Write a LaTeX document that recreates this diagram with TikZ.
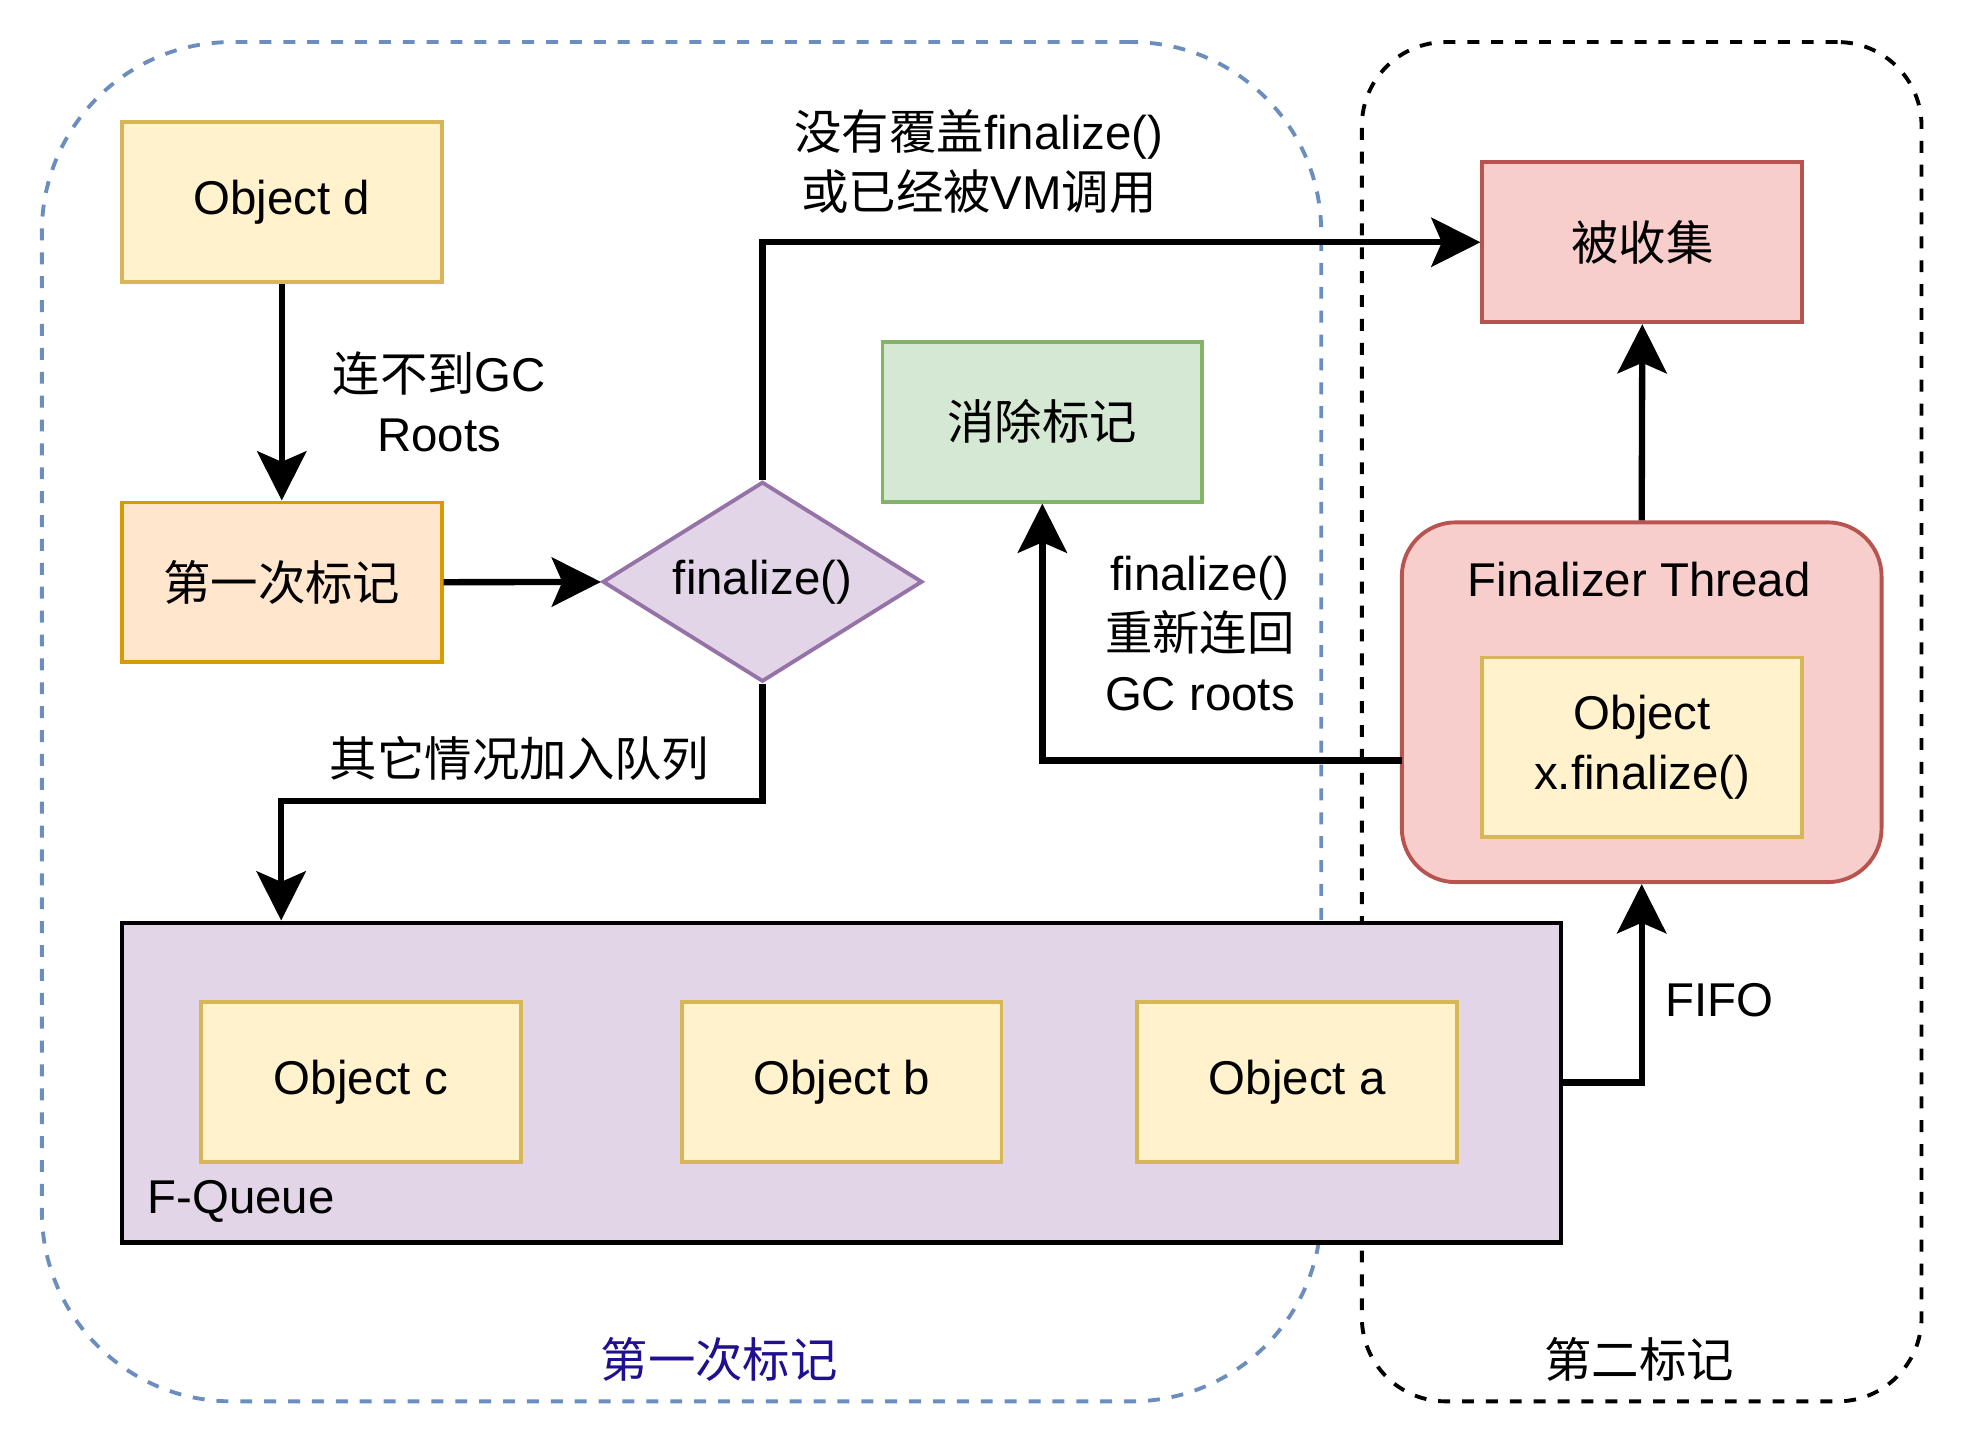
\documentclass[tikz,border=0pt]{standalone}
\usepackage{fontspec}
\setmainfont{Liberation Sans}
\newfontfamily\cjk{Noto Sans CJK SC}
\usetikzlibrary{arrows.meta,shapes.geometric}
\definecolor{yfill}{HTML}{FFF2CC}\definecolor{ydraw}{HTML}{D6B656}
\definecolor{ofill}{HTML}{FFE6CC}\definecolor{odraw}{HTML}{D79B00}
\definecolor{pfill}{HTML}{E1D5E7}\definecolor{pdraw}{HTML}{9673A6}
\definecolor{rfill}{HTML}{F8CECC}\definecolor{rdraw}{HTML}{B85450}
\definecolor{gfill}{HTML}{D5E8D4}\definecolor{gdraw}{HTML}{82B366}
\definecolor{bdash}{HTML}{6C8EBF}
\definecolor{blabel}{HTML}{1F108F}
\tikzset{
  box/.style={rectangle, inner sep=0pt, minimum width=3.2cm, minimum height=1.6cm, line width=1.1pt, align=center},
  ybox/.style={box, fill=yfill, draw=ydraw},
  obox/.style={box, fill=ofill, draw=odraw},
  rbox/.style={box, fill=rfill, draw=rdraw},
  gbox/.style={box, fill=gfill, draw=gdraw},
  arr/.style={draw=black, line width=1.8pt, -{Stealth[length=14pt,width=14pt,inset=3pt]}},
  lbl/.style={inner sep=0pt, align=center},
  container/.style={rectangle, inner sep=0pt, minimum width=#1, minimum height=13.6cm, line width=1.1pt, dash pattern=on 3.4pt off 3.4pt},
}
\begin{document}
\begin{tikzpicture}[x=0.012551cm, y=-0.012551cm, font=\fontsize{13.5}{17.1}\selectfont]
\useasboundingbox (0,0) rectangle (1568,1151);
% containers
\node[container=12.8cm, draw=bdash, rounded corners=1.9cm] (blue) at (543,575) {};
\node[container=5.6cm, draw=black, rounded corners=0.84cm] (black) at (1308,575) {};
\node[lbl, text=blabel] (lab1) at (573,1083) {\cjk 第一次标记};
\node[lbl] (lab2) at (1306,1083) {\cjk 第二标记};
% nodes
\node[ybox] (od) at (224.5,161) {Object d};
\node[obox] (mark1) at (224.5,464) {\cjk 第一次标记};
\node[diamond, draw=pdraw, fill=pfill, line width=1.1pt, inner sep=0pt, minimum width=3.2cm, minimum height=2cm, label=center:finalize()] (dia) at (607.5,463.5) {};
\node[rbox] (collected) at (1308.5,193) {\cjk 被收集};
\node[gbox] (clear) at (830.5,336) {\cjk 消除标记};
\node[rectangle, fill=rfill, draw=rdraw, line width=1.1pt, rounded corners=0.54cm, minimum width=4.8cm, minimum height=3.6cm, inner sep=0pt] (ft) at (1308,559.5) {};
\node[lbl] (fttitle) at (1306,462) {Finalizer Thread};
\node[ybox, minimum height=1.8cm] (ox) at (1308.5,595.5) {Object\\x.finalize()};
\node[rectangle, fill=pfill, draw=black, line width=1.2pt, minimum width=14.4cm, minimum height=3.2cm, inner sep=0pt] (fq) at (670.5,862.5) {};
\node[lbl, anchor=west] (fqlabel) at (117,957) {F-Queue};
\node[ybox] (oc) at (287.5,862) {Object c};
\node[ybox] (ob) at (670.5,862) {Object b};
\node[ybox] (oa) at (1033.5,862) {Object a};
% labels
\node[lbl] (t1) at (350,320) {{\cjk 连不到}GC\\Roots};
\node[lbl] (t2) at (780,129) {{\cjk 没有覆盖}finalize()\\{\cjk 或已经被}VM{\cjk 调用}};
\node[lbl] (t3) at (956,505) {finalize()\\{\cjk 重新连回}\\GC roots};
\node[lbl] (t4) at (414,604) {\cjk 其它情况加入队列};
\node[lbl] (t5) at (1370,797) {FIFO};
% connectors
\coordinate (q1) at (224,638);
\coordinate (ftexit) at (1117,606);
\draw[arr] (od) -- (mark1);
\draw[arr] (mark1) -- (dia);
\draw[arr] (dia.north) |- (collected.west);
\draw[arr] (dia.south) |- (q1) -- (q1 |- fq.north);
\draw[arr] (ftexit) -| (clear.south);
\draw[arr] (ft.north) -- (collected.south);
\draw[arr] (fq.east) -| (ft.south);
\end{tikzpicture}
\end{document}
